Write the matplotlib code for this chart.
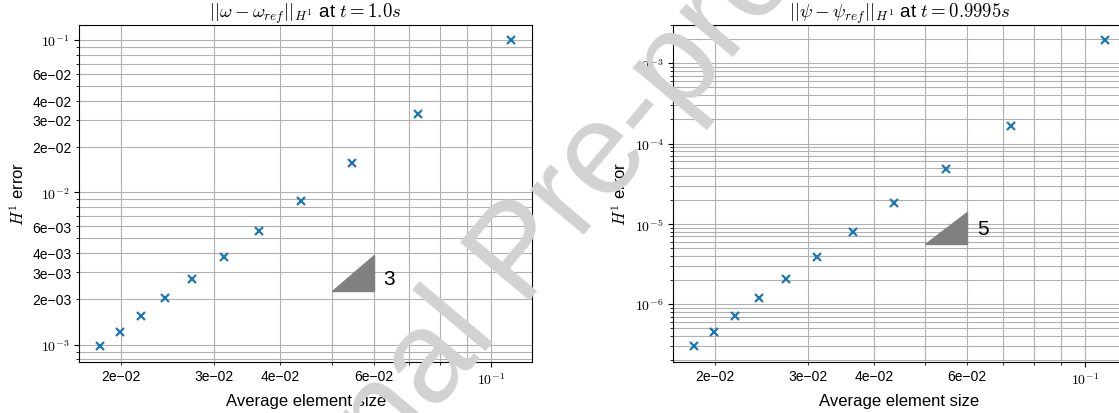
import numpy as np
import matplotlib
matplotlib.use('Agg')
import matplotlib.pyplot as plt
from matplotlib import ticker

plt.rcParams['font.family'] = ['Liberation Sans', 'DejaVu Sans']
plt.rcParams['mathtext.fontset'] = 'cm'

# ---- data ----
h = [0.01825, 0.01992, 0.02185, 0.02422, 0.02729, 0.03124, 0.03648,
     0.04369, 0.05463, 0.07267, 0.1092]
err_omega = [9.75e-4, 1.217e-3, 1.549e-3, 2.03e-3, 2.71e-3, 3.78e-3,
             5.59e-3, 8.77e-3, 1.552e-2, 3.27e-2, 0.1]
err_psi = [2.98e-7, 4.56e-7, 7.21e-7, 1.198e-6, 2.07e-6, 3.88e-6,
           7.94e-6, 1.82e-5, 4.83e-5, 1.66e-4, 1.95e-3]

tri_x = [0.05, 0.06, 0.06]
tri_omega_y = [2.25e-3, 2.25e-3, 3.89e-3]
tri_psi_y = [5.64e-6, 5.64e-6, 1.403e-5]
slope_omega = '3'
slope_psi = '5'
slope_label_x = 0.0625
slope_omega_label_y = 2.70e-3
slope_psi_label_y = 8.66e-6

titles = [r'$||\omega - \omega_{ref}||_{H^1}$ at $t = 1.0s$',
          r'$||\psi - \psi_{ref}||_{H^1}$ at $t = 0.9995s$']
xlabel = 'Average element size'
ylabel = r'$H^1$ error'

W, H = 1119, 414
fig = plt.figure(figsize=(W / 100, H / 100), dpi=100)

ax_b = (H - 362.7) / H
ax_h = 337.0 / H
ax_w = 452.7 / W
ax1 = fig.add_axes([79.3 / W, ax_b, ax_w, ax_h])
ax2 = fig.add_axes([673.0 / W, ax_b, ax_w, ax_h])


def major_fmt(v, pos):
    e = int(np.round(np.log10(v)))
    return r'$10^{%d}$' % e


for ax, err, tx, ty, sl, sly, title in [
        (ax1, err_omega, tri_x, tri_omega_y, slope_omega, slope_omega_label_y, titles[0]),
        (ax2, err_psi, tri_x, tri_psi_y, slope_psi, slope_psi_label_y, titles[1])]:
    ax.plot(h, err, 'x', color='#1f77b4', markersize=6, markeredgewidth=1.6)
    ax.set_xscale('log')
    ax.set_yscale('log')
    ax.grid(True, which='both', color='#b0b0b0', linewidth=0.8)
    ax.set_axisbelow(True)
    ax.fill(tx, ty, color='gray', zorder=3)
    ax.text(slope_label_x, sly, sl, fontsize=15, ha='left', va='center')
    for axis in (ax.xaxis, ax.yaxis):
        axis.set_major_formatter(ticker.FuncFormatter(major_fmt))
        axis.set_minor_formatter(ticker.LogFormatter(labelOnlyBase=False,
                                                     minor_thresholds=(3, 0.4)))
    ax.tick_params(labelsize=10)
    ax.set_title(title, fontsize=13.5, pad=5)
    ax.set_xlabel(xlabel, fontsize=12)
    ax.set_ylabel(ylabel, fontsize=12)

fig.text(522 / W, 1 - 255 / H, 'Journal Pre-proof', fontsize=94, rotation=50,
         color='#d2d2d2', ha='center', va='center', rotation_mode='anchor',
         family='Liberation Sans', zorder=100)

fig.savefig('out.png', dpi=100)
